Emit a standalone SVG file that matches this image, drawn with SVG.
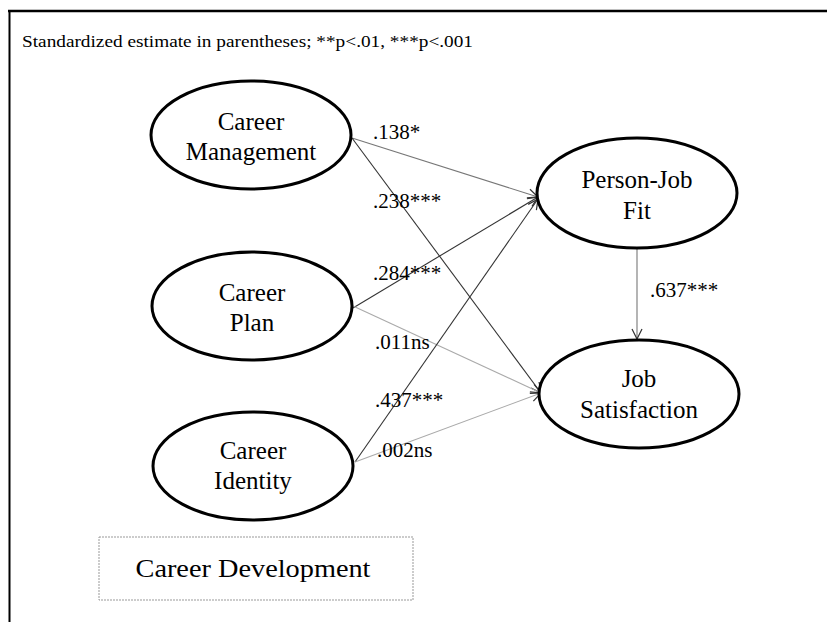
<svg xmlns="http://www.w3.org/2000/svg" width="827" height="622" viewBox="0 0 827 622" font-family="'Liberation Serif', Tinos, 'DejaVu Serif', serif">
<defs>
<style>
.node ellipse{fill:#fff;stroke:#000;stroke-width:3}
.nt{font-family:'Liberation Serif',Tinos,'DejaVu Serif',serif;font-size:25px;fill:#000;text-anchor:middle}
.lbl{font-family:'Liberation Serif',Tinos,'DejaVu Serif',serif;font-size:21px;fill:#000}
.hdr{font-family:'Liberation Serif',Tinos,'DejaVu Serif',serif;font-size:16px;fill:#000}
.e{fill:none;stroke-width:1.1}
.dk{stroke:#333}
.md{stroke:#777}
.lt{stroke:#aaa}
</style>
<marker id="ah" viewBox="0 0 12 12" refX="11" refY="6" markerWidth="12" markerHeight="12" markerUnits="userSpaceOnUse" orient="auto">
<path d="M1,1 L11,6 L1,11" fill="none" stroke="#333" stroke-width="1.2"/>
</marker>
</defs>
<rect width="827" height="622" fill="#fff"/>
<g id="frame">
<line x1="8" y1="11" x2="827" y2="11" stroke="#000" stroke-width="2.5"/>
<line x1="9.5" y1="10" x2="9.5" y2="622" stroke="#000" stroke-width="2"/>
</g>
<text class="hdr" x="22" y="47" textLength="451" lengthAdjust="spacingAndGlyphs">Standardized estimate in parentheses; **p&lt;.01, ***p&lt;.001</text>
<g id="connectors">
<line class="e md" x1="352" y1="138" x2="538" y2="197" marker-end="url(#ah)"/>
<line class="e dk" x1="352" y1="138" x2="541" y2="393" marker-end="url(#ah)"/>
<line class="e dk" x1="353" y1="308" x2="538" y2="197" marker-end="url(#ah)"/>
<line class="e lt" x1="353" y1="306" x2="541" y2="393" marker-end="url(#ah)"/>
<line class="e dk" x1="355" y1="462" x2="538" y2="199" marker-end="url(#ah)"/>
<line class="e lt" x1="355" y1="462" x2="541" y2="393" marker-end="url(#ah)"/>
<line class="e md" x1="637" y1="248" x2="637" y2="339" marker-end="url(#ah)"/>
<text class="lbl" x="373" y="139">.138*</text>
<text class="lbl" x="373" y="208">.238***</text>
<text class="lbl" x="373" y="280">.284***</text>
<text class="lbl" x="375" y="349">.011ns</text>
<text class="lbl" x="375" y="407">.437***</text>
<text class="lbl" x="377" y="457">.002ns</text>
<text class="lbl" x="650" y="297">.637***</text>
</g>
<g id="career-management" class="node">
<ellipse cx="251" cy="135" rx="100" ry="54"/>
<text class="nt" x="251" y="130">Career</text>
<text class="nt" x="251" y="160">Management</text>
</g>
<g id="career-plan" class="node">
<ellipse cx="252" cy="306" rx="100" ry="54"/>
<text class="nt" x="252" y="301">Career</text>
<text class="nt" x="252" y="331">Plan</text>
</g>
<g id="career-identity" class="node">
<ellipse cx="253" cy="466" rx="100" ry="54"/>
<text class="nt" x="253" y="459">Career</text>
<text class="nt" x="253" y="489">Identity</text>
</g>
<g id="person-job-fit" class="node">
<ellipse cx="637" cy="193" rx="100" ry="55"/>
<text class="nt" x="637" y="188">Person-Job</text>
<text class="nt" x="637" y="219">Fit</text>
</g>
<g id="job-satisfaction" class="node">
<ellipse cx="639" cy="394" rx="100" ry="54"/>
<text class="nt" x="639" y="387">Job</text>
<text class="nt" x="639" y="418">Satisfaction</text>
</g>
<g id="career-development">
<rect x="99" y="537" width="314" height="63" fill="none" stroke="#999" stroke-width="1" stroke-dasharray="2,1"/>
<text class="nt" x="253" y="577" style="font-size:26px" textLength="235" lengthAdjust="spacingAndGlyphs">Career Development</text>
</g>
</svg>
